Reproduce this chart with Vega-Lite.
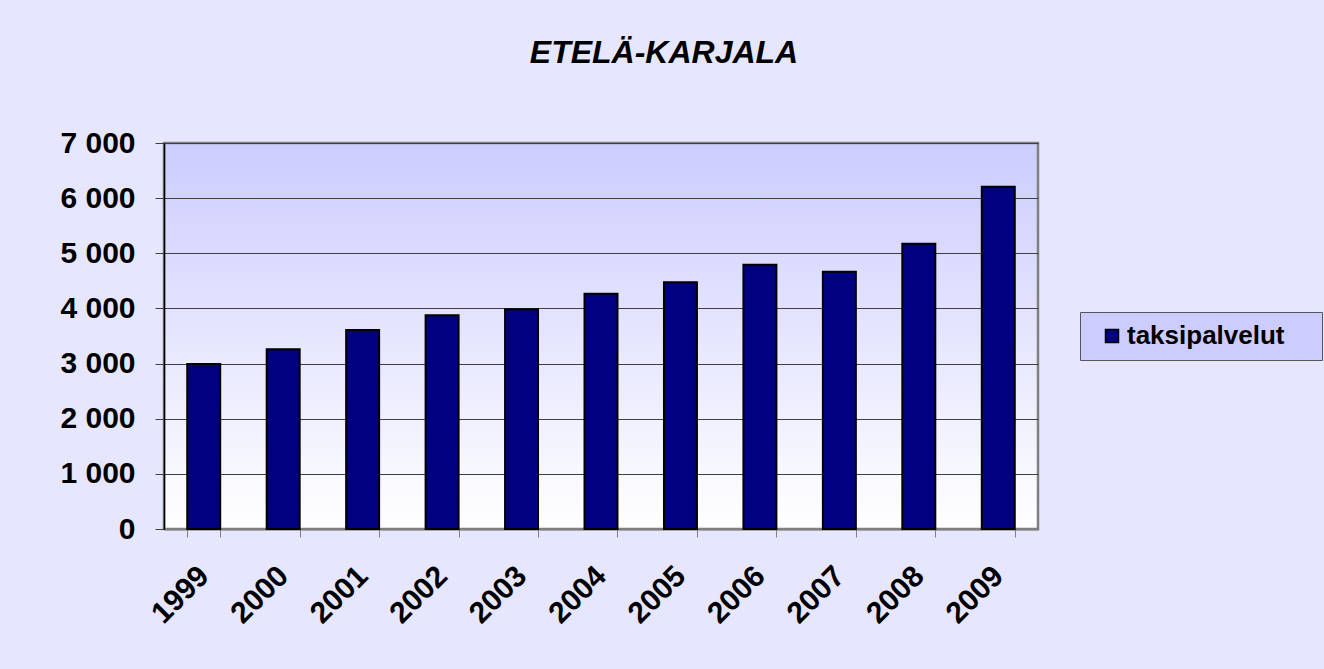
{
  "$schema": "https://vega.github.io/schema/vega-lite/v6.json",
  "width": 874,
  "height": 386,
  "autosize": {"type": "none"},
  "padding": {"left": 164, "top": 143, "right": 286, "bottom": 140},
  "background": "#e6e6ff",
  "title": {
    "text": "ETELÄ-KARJALA",
    "anchor": "middle",
    "frame": "group",
    "dx": 63,
    "offset": 33,
    "baseline": "alphabetic",
    "font": "Liberation Sans",
    "fontSize": 32,
    "fontWeight": "bold",
    "fontStyle": "italic",
    "color": "#000000"
  },
  "data": {
    "values": [
      {"vuosi": "1999", "arvo": 2990, "sarja": "taksipalvelut"},
      {"vuosi": "2000", "arvo": 3260, "sarja": "taksipalvelut"},
      {"vuosi": "2001", "arvo": 3610, "sarja": "taksipalvelut"},
      {"vuosi": "2002", "arvo": 3877, "sarja": "taksipalvelut"},
      {"vuosi": "2003", "arvo": 3986, "sarja": "taksipalvelut"},
      {"vuosi": "2004", "arvo": 4268, "sarja": "taksipalvelut"},
      {"vuosi": "2005", "arvo": 4475, "sarja": "taksipalvelut"},
      {"vuosi": "2006", "arvo": 4793, "sarja": "taksipalvelut"},
      {"vuosi": "2007", "arvo": 4667, "sarja": "taksipalvelut"},
      {"vuosi": "2008", "arvo": 5174, "sarja": "taksipalvelut"},
      {"vuosi": "2009", "arvo": 6207, "sarja": "taksipalvelut"}
    ]
  },
  "mark": {"type": "bar", "stroke": "#000000", "strokeWidth": 2},
  "encoding": {
    "x": {
      "field": "vuosi",
      "type": "ordinal",
      "scale": {"paddingInner": 0.585, "paddingOuter": 0.2925},
      "axis": {
        "title": null,
        "labelAngle": -45,
        "labelAlign": "right",
        "labelBaseline": "middle",
        "labelFont": "Liberation Sans",
        "labelFontSize": 30,
        "labelFontWeight": "bold",
        "labelColor": "#000000",
        "labelPadding": 34,
        "tickBand": "extent",
        "tickSize": 8,
        "tickColor": "#808080",
        "domainColor": "#808080",
        "domainWidth": 2,
        "grid": false
      }
    },
    "y": {
      "field": "arvo",
      "type": "quantitative",
      "scale": {"domain": [0, 7000]},
      "axis": {
        "title": null,
        "values": [0, 1000, 2000, 3000, 4000, 5000, 6000, 7000],
        "labelExpr": "replace(format(datum.value, ','), ',', ' ')",
        "labelFont": "Liberation Sans",
        "labelFontSize": 30,
        "labelFontWeight": "bold",
        "labelColor": "#000000",
        "labelPadding": 20,
        "tickSize": 9,
        "tickColor": "#404040",
        "domainColor": "#000000",
        "domainWidth": 1.5,
        "grid": true,
        "gridColor": "#404040",
        "gridWidth": 1
      }
    },
    "color": {
      "field": "sarja",
      "type": "nominal",
      "scale": {"range": ["#000080"]},
      "legend": {
        "title": " ",
        "titleOrient": "right",
        "titlePadding": 26,
        "titleFontSize": 12,
        "orient": "none",
        "legendX": 916,
        "legendY": 169,
        "padding": 11,
        "fillColor": "#ccccff",
        "strokeColor": "#555555",
        "symbolType": "square",
        "symbolSize": 169,
        "symbolOffset": 8,
        "symbolStrokeColor": "#000000",
        "symbolStrokeWidth": 1.5,
        "labelFont": "Liberation Sans",
        "labelFontSize": 26,
        "labelFontWeight": "bold",
        "labelColor": "#000000",
        "labelOffset": 2
      }
    }
  },
  "config": {
    "view": {
      "stroke": "#808080",
      "strokeWidth": 2.5,
      "fill": {
        "gradient": "linear",
        "x1": 0, "y1": 0, "x2": 0, "y2": 1,
        "stops": [
          {"offset": 0, "color": "#ccccff"},
          {"offset": 1, "color": "#ffffff"}
        ]
      }
    }
  }
}
